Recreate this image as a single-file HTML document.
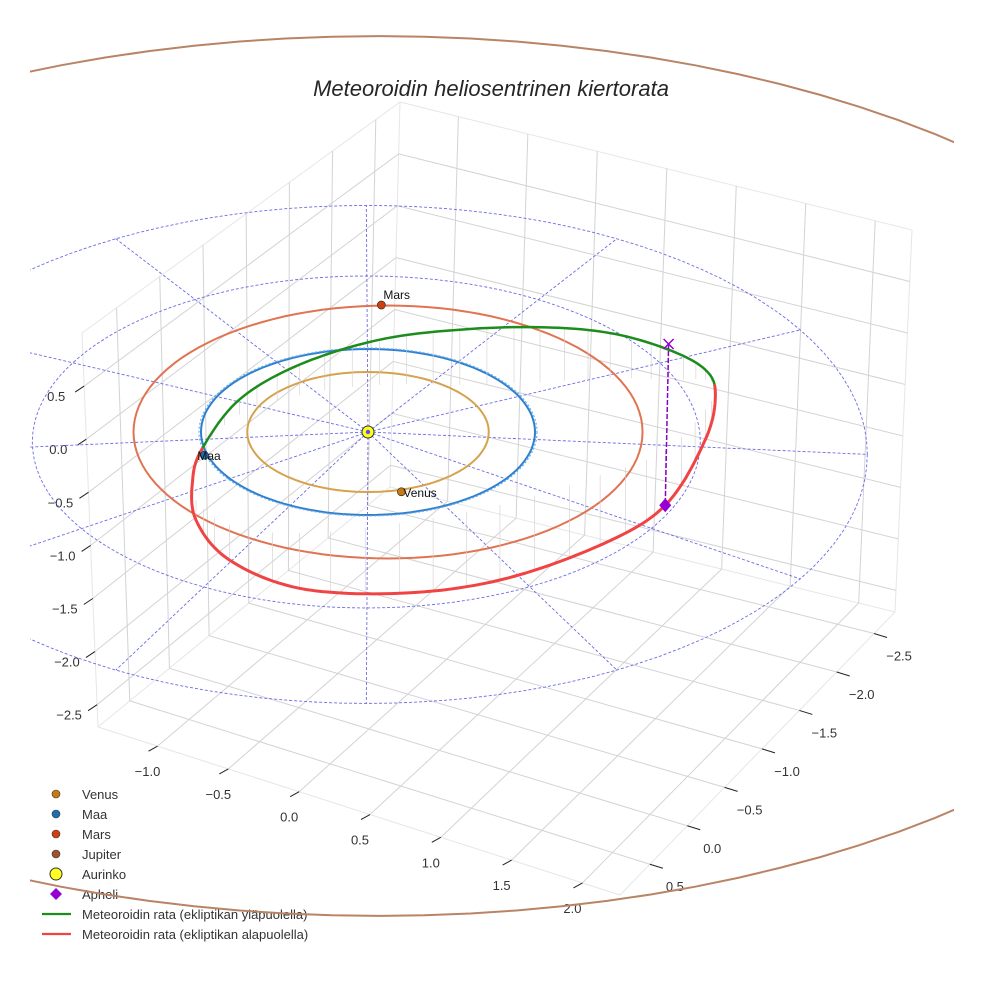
<!DOCTYPE html>
<html><head><meta charset="utf-8"><title>Meteoroidin heliosentrinen kiertorata</title>
<style>
html,body{margin:0;padding:0;background:#fff;}
svg{display:block;font-family:"Liberation Sans",sans-serif;}
</style></head>
<body>
<svg id="chart" width="984" height="984" viewBox="0 0 984 984" xmlns="http://www.w3.org/2000/svg">
<defs><clipPath id="axclip"><rect x="30" y="0" width="924" height="984"/></clipPath></defs>
<rect width="984" height="984" fill="#fff"/>
<g id="grid"></g>
<g id="ticks"></g>
<g id="plot" clip-path="url(#axclip)"></g>
<text x="491" y="96" text-anchor="middle" font-size="22" font-style="italic" fill="#262626">Meteoroidin heliosentrinen kiertorata</text>
<g id="legend"></g>
<g id="toplayer" clip-path="url(#axclip)"></g>
</svg>
<script>
// ---- data ----
const xTicks = [-1.0, -0.5, 0.0, 0.5, 1.0, 1.5, 2.0];
const yTicks = [0.5, 0.0, -0.5, -1.0, -1.5, -2.0, -2.5];
const zTicks = [0.5, 0.0, -0.5, -1.0, -1.5, -2.0, -2.5];
const orbitNames = ['venus', 'maa', 'mars', 'jupiter'];
const orbitR = [0.723, 1.0, 1.524, 5.3];
const orbitCu = [0, 0, 0.12, 0.06];
const orbitCv = [0, 0, 0, 0.53];
const orbitColors = ['#d6a24e', '#2f7fcf', '#e07452', '#b98466'];
const ringR = [2, 3];
const ringCu = [-0.01, -0.01];
const ringCv = [0.12, 0.27];
const spokeAngles = [0, 30, 60, 90, 120, 150, 180, 210, 240, 270, 300, 330];
const metU = [-0.99,-0.77,-0.41,0.07,0.55,1.03,1.45,1.80,2.02,2.08,2.02,1.78,1.39,0.79,0.19,-0.41,-0.83,-1.03,-1.05];
const metV = [0.19,-0.21,-0.45,-0.57,-0.57,-0.60,-0.65,-0.63,-0.63,-0.51,-0.27,0.22,0.52,0.88,1.10,1.22,1.12,0.82,0.48];
const metZ = [0,0.15,0.3,0.45,0.55,0.55,0.45,0.3,0.1,-0.05,-0.3,-0.55,-0.7,-0.75,-0.7,-0.55,-0.35,-0.2,-0.08];
const planetNames = ['Venus', 'Maa', 'Mars'];
const planetU = [0.20, -0.98, 0.08];
const planetV = [0.72, 0.28, -1.53];
const planetColors = ['#c87a10', '#1f6fb0', '#d0400f'];
const aphU = [1.78], aphV = [0.22], aphZ = [-0.55];
const markU = [1.80], markV = [-1.06], markZ = [0];

// ---- helpers ----
const NS = 'http://www.w3.org/2000/svg';
function mk(parent, tag, attrs){ const e=document.createElementNS(NS,tag); for(const k in attrs) e.setAttribute(k,attrs[k]); parent.appendChild(e); return e; }
const PX = u => 368 + 167*u;
const PY = (v,z) => 432 + 83*v - 100*z;
const lerp=(a,b,t)=>[a[0]+(b[0]-a[0])*t, a[1]+(b[1]-a[1])*t];
const cL=[98,727], cF=[620,895], cR=[895,612], cB=[390,487], cLt=[82,333], cBt=[400,102], cRt=[912,230];
const sOf = x => (x + 1.42)/3.685;
const tOf = y => (0.9 - y)/3.68;
const hOf = z => (z + 2.71)/3.71;
const floorP=(s,t)=>lerp(lerp(cL,cF,s), lerp(cB,cR,s), t);
const leftW=(t,h)=>lerp(lerp(cL,cB,t), lerp(cLt,cBt,t), h);
const rightW=(s,h)=>lerp(lerp(cB,cR,s), lerp(cBt,cRt,s), h);

const gridG=document.getElementById('grid');
function gl(a,b,name,col){ const l=mk(gridG,'line',{x1:a[0],y1:a[1],x2:b[0],y2:b[1],stroke:col||'#d3d3d3','stroke-width':1});
  
   }
[[cL,cB],[cB,cR],[cL,cF],[cF,cR],[cL,cLt],[cLt,cBt],[cBt,cRt],[cRt,cR],[cB,cBt]].forEach(p=>gl(p[0],p[1],'pane-edge','#e6e6e6'));
xTicks.forEach(x=>{ const s=sOf(x); gl(floorP(s,0),floorP(s,1),'floor-grid-x'); gl(rightW(s,0),rightW(s,1),'wall-grid-x'); });
yTicks.forEach(y=>{ const t=tOf(y); gl(floorP(0,t),floorP(1,t),'floor-grid-y'); gl(leftW(t,0),leftW(t,1),'wall-grid-y'); });
zTicks.forEach(z=>{ const h=hOf(z); gl(leftW(0,h),leftW(1,h),'wall-grid-z'); gl(rightW(0,h),rightW(1,h),'wall-grid-z'); });

const ticksG=document.getElementById('ticks');
function tl(E,dx,dy,lx,ly,txt,name){
  const l=mk(ticksG,'line',{x1:E[0],y1:E[1],x2:E[0]+dx,y2:E[1]+dy,stroke:'#222','stroke-width':1});
  
  
  const t=mk(ticksG,'text',{x:E[0]+lx,y:E[1]+ly,'text-anchor':'middle','font-size':13,fill:'#333'});
  t.textContent=txt.replace('-','\u2212');
  
  
}
xTicks.forEach(x=>tl(lerp(cL,cF,sOf(x)),-9,5,-10,30,x.toFixed(1),'x-axis'));
yTicks.forEach(y=>tl(lerp(cF,cR,tOf(y)),13,4,25,27,y.toFixed(1),'y-axis'));
zTicks.forEach(z=>tl(lerp(cL,cLt,hOf(z)),-9,6,-28,15,z.toFixed(1),'z-axis'));

const plotG=document.getElementById('plot');
function ringPath(cu,cv,r){ let d=''; for(let i=0;i<=120;i++){ const a=i/120*2*Math.PI; d+=(i?'L':'M')+PX(cu+r*Math.cos(a)).toFixed(1)+','+PY(cv+r*Math.sin(a),0).toFixed(1);} return d+'Z'; }
ringR.forEach((r,i)=>{ const p=mk(plotG,'path',{d:ringPath(ringCu[i],ringCv[i],r),fill:'none',stroke:'#6b6be6','stroke-width':0.9,'stroke-dasharray':'3,2'});
  
   });
spokeAngles.forEach(a=>{ const rad=a*Math.PI/180; const ro=ringR[ringR.length-1];
  const l=mk(plotG,'line',{x1:PX(0),y1:PY(0,0),x2:PX(ringCu[1]+ro*Math.cos(rad)),y2:PY(ringCv[1]+ro*Math.sin(rad),0),stroke:'#6b6be6','stroke-width':0.9,'stroke-dasharray':'3,2'});
  
   });
for(let i=0;i<3;i++){
  const p=mk(plotG,'path',{d:ringPath(orbitCu[i],orbitCv[i],orbitR[i]),fill:'none',stroke:orbitColors[i],'stroke-width':2});
  
  
}
const e2=mk(plotG,'path',{d:ringPath(0,0,1.012),fill:'none',stroke:'#6fb0e8','stroke-width':1.2,'stroke-dasharray':'2,2'});



const nPts=metU.length, pts=[];
for(let i=0;i<nPts;i++){ const p0=i-1<0?nPts-1:i-1, p2=(i+1)%nPts, p3=(i+2)%nPts;
  for(let k=0;k<12;k++){ const t=k/12, t2=t*t, t3=t2*t;
    const cr=(a,b,c,d)=>0.5*((2*b)+(-a+c)*t+(2*a-5*b+4*c-d)*t2+(-a+3*b-3*c+d)*t3);
    pts.push([cr(metU[p0],metU[i],metU[p2],metU[p3]), cr(metV[p0],metV[i],metV[p2],metV[p3]), cr(metZ[p0],metZ[i],metZ[p2],metZ[p3])]); } }
pts.push(pts[0]);
pts.forEach((p,i)=>{ if(i%4) return;
  const l=mk(plotG,'line',{x1:PX(p[0]),y1:PY(p[1],p[2]),x2:PX(p[0]),y2:PY(p[1],0),stroke:'#cfcfcf','stroke-width':0.6});
  
   });
let runs=[], cur=null;
for(let i=0;i<pts.length-1;i++){ const above=(pts[i][2]+pts[i+1][2])/2>=0;
  if(!cur||cur.above!==above){ cur={above,pts:[pts[i]]}; runs.push(cur);} cur.pts.push(pts[i+1]); }
runs.forEach(r=>{ const d=r.pts.map((p,j)=>(j?'L':'M')+PX(p[0]).toFixed(1)+','+PY(p[1],p[2]).toFixed(1)).join('');
  const path=mk(plotG,'path',{d,fill:'none',stroke:r.above?'#1c8c1c':'#f04444','stroke-width':r.above?2.5:3,'stroke-linejoin':'round'});
  
   });

const ax=PX(aphU[0]), ay=PY(aphV[0],aphZ[0]), mx=PX(markU[0]), my=PY(markV[0],markZ[0]);
const al=mk(plotG,'line',{x1:mx,y1:my,x2:ax,y2:ay,stroke:'#8a00c8','stroke-width':1.5,'stroke-dasharray':'5,2'});


const xm=mk(plotG,'path',{d:`M${mx-5},${my-5}L${mx+5},${my+5}M${mx-5},${my+5}L${mx+5},${my-5}`,stroke:'#9400d3','stroke-width':1.5});


const dm=mk(plotG,'path',{d:`M${ax},${ay-7}L${ax+6},${ay}L${ax},${ay+7}L${ax-6},${ay}Z`,fill:'#9400d3'});



planetNames.forEach((nm,i)=>{ const x=PX(planetU[i]), y=PY(planetV[i],0);
  const c=mk(plotG,'circle',{cx:x,cy:y,r:4,fill:planetColors[i],stroke:'#333','stroke-width':0.7});
  
  
  const t=mk(plotG,'text',{x:x+(i==2?2:(i==1?-7:2)),y:y+(i==2?-6:5),'font-size':12,fill:'#111'}); t.textContent=nm;
  
   });
const sun=mk(plotG,'circle',{cx:PX(0),cy:PY(0,0),r:6,fill:'#ffff22',stroke:'#333','stroke-width':1});


const sc=mk(plotG,'circle',{cx:PX(0),cy:PY(0,0),r:2.2,fill:'#5555dd'});



const legG=document.getElementById('legend');
const legItems=[['Venus','dot','#c87a10'],['Maa','dot','#1f6fb0'],['Mars','dot','#d0400f'],['Jupiter','dot','#a0522d'],['Aurinko','sun','#ffff22'],['Apheli','dia','#9400d3'],
 ['Meteoroidin rata (ekliptikan yläpuolella)','line','#1c8c1c'],['Meteoroidin rata (ekliptikan alapuolella)','line','#f04444']];
legItems.forEach((it,i)=>{ const y=794+i*20; const g=mk(legG,'g',{});
  
  
  if(it[1]==='dot') mk(g,'circle',{cx:56,cy:y,r:4,fill:it[2],stroke:'#333','stroke-width':0.6});
  else if(it[1]==='sun') mk(g,'circle',{cx:56,cy:y,r:6,fill:it[2],stroke:'#333','stroke-width':1});
  else if(it[1]==='dia') mk(g,'path',{d:`M56,${y-6}L62,${y}L56,${y+6}L50,${y}Z`,fill:it[2]});
  else mk(g,'line',{x1:42,y1:y,x2:71,y2:y,stroke:it[2],'stroke-width':2.2});
  const t=mk(g,'text',{x:82,y:y+5,'font-size':13,fill:'#333'}); t.textContent=it[0]; });

const topLayer=document.getElementById('toplayer');
const jp=mk(topLayer,'path',{d:ringPath(orbitCu[3],orbitCv[3],orbitR[3]),fill:'none',stroke:orbitColors[3],'stroke-width':2});


</script>
</body></html>
